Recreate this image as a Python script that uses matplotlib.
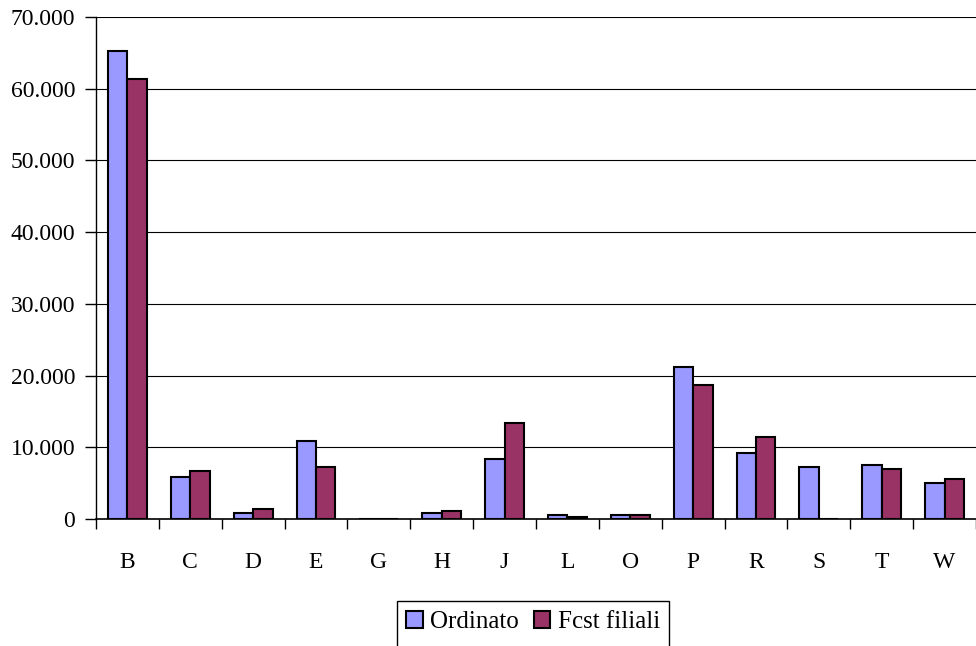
import matplotlib
matplotlib.use("Agg")
import matplotlib.pyplot as plt
import numpy as np
from matplotlib.ticker import FuncFormatter
from matplotlib.patches import Rectangle

categories = ["B", "C", "D", "E", "G", "H", "J", "L", "O", "P", "R", "S", "T", "W"]
ordinato = [65300, 5900, 880, 10900, 0, 900, 8400, 550, 550, 21200, 9200, 7250, 7500, 5000]
fcst_filiali = [61400, 6700, 1400, 7300, 0, 1150, 13400, 300, 550, 18700, 11400, 0, 7000, 5600]

plt.rcParams["font.family"] = ["Liberation Serif", "DejaVu Serif"]

W, H = 976, 646
fig = plt.figure(figsize=(W / 100, H / 100), dpi=100)
ax = fig.add_axes([96 / W, (H - 519) / H, 880 / W, 502 / H])

n = len(categories)
x = np.arange(n)
w = 0.31
ax.bar(x - w / 2, ordinato, width=w, color="#9999FF", edgecolor="black", linewidth=1.5,
       label="Ordinato", zorder=3)
ax.bar(x + w / 2, fcst_filiali, width=w, color="#993366", edgecolor="black", linewidth=1.5,
       label="Fcst filiali", zorder=3)

ax.set_xlim(-0.5, n - 0.5)
ax.set_ylim(0, 70000)
ax.set_yticks(np.arange(0, 70001, 10000))
ax.yaxis.set_major_formatter(FuncFormatter(lambda v, p: f"{int(v):,}".replace(",", ".")))
ax.grid(axis="y", color="black", linewidth=0.8, zorder=0)
ax.tick_params(axis="y", direction="out", length=8, width=1, labelsize=17, pad=7)

ax.set_xticks(np.arange(-0.5, n, 1.0))
ax.set_xticklabels([])
ax.tick_params(axis="x", which="major", direction="out", length=7, width=1)
ax.set_xticks(x, minor=True)
ax.set_xticklabels(categories, minor=True, fontsize=17)
ax.tick_params(axis="x", which="minor", length=0, pad=24)

for s in ["top", "right"]:
    ax.spines[s].set_visible(False)
ax.spines["left"].set_linewidth(1)
ax.spines["bottom"].set_linewidth(1.2)

# legend text and handles, with its frame running off the bottom edge
leg = fig.legend(loc="center", bbox_to_anchor=(533 / W, 1 - 622 / H), ncol=2,
                 fontsize=18, frameon=False,
                 handlelength=0.65, handleheight=0.65, handletextpad=0.3, columnspacing=0.6,
                 borderpad=0, borderaxespad=0)
fig.patches.append(Rectangle((397 / W, -0.05), (669 - 397) / W, 0.05 + (H - 601) / H,
                             transform=fig.transFigure, fill=False, edgecolor="black",
                             linewidth=1))

fig.savefig("out.png", dpi=100)
